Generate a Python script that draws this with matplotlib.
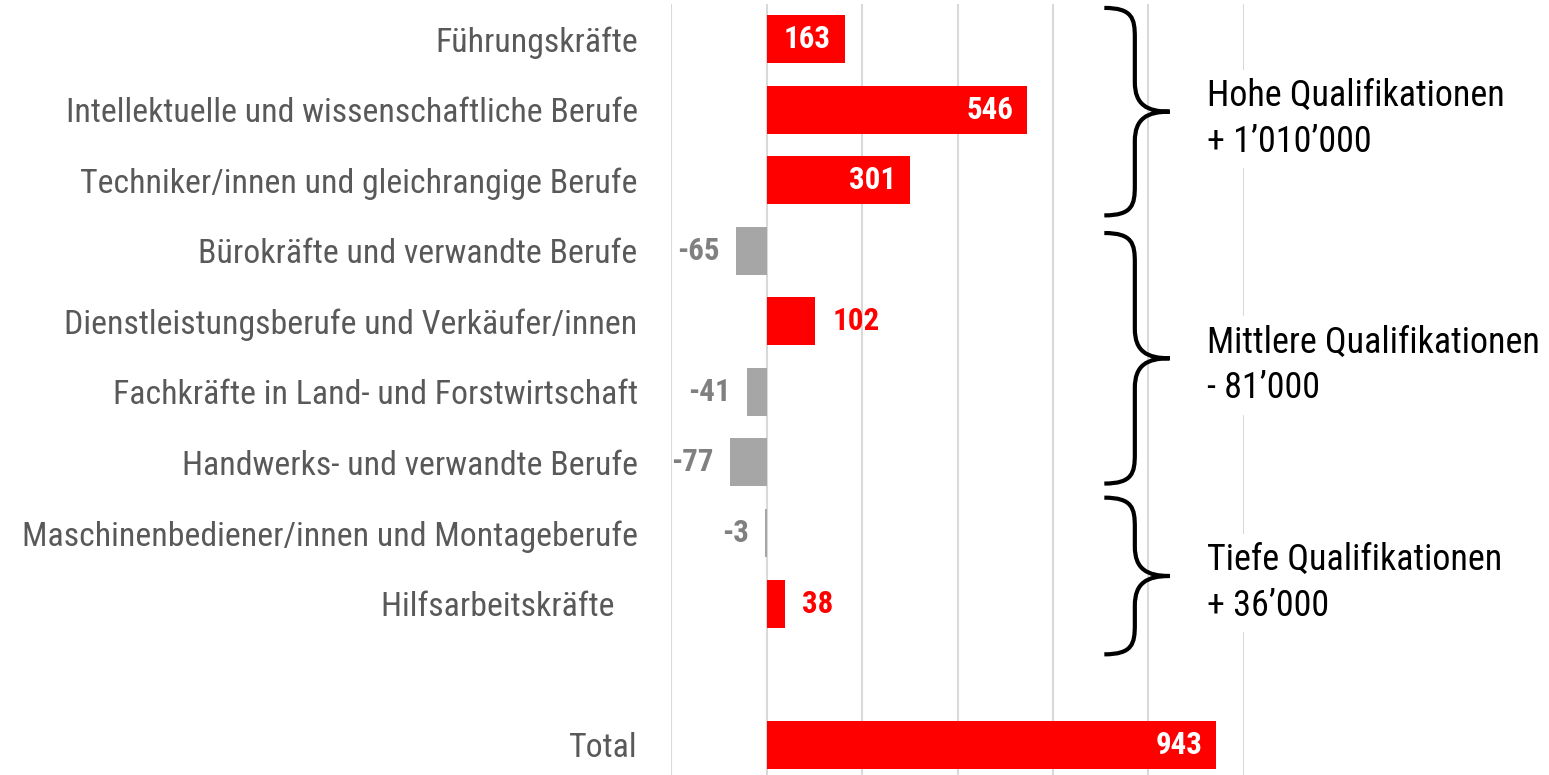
import matplotlib
matplotlib.use("Agg")
import matplotlib.pyplot as plt
from matplotlib.path import Path
from matplotlib.patches import PathPatch
from matplotlib import font_manager

# data
categories = [
    "Führungskräfte",
    "Intellektuelle und wissenschaftliche Berufe",
    "Techniker/innen und gleichrangige Berufe",
    "Bürokräfte und verwandte Berufe",
    "Dienstleistungsberufe und Verkäufer/innen",
    "Fachkräfte in Land- und Forstwirtschaft",
    "Handwerks- und verwandte Berufe",
    "Maschinenbediener/innen und Montageberufe",
    "Hilfsarbeitskräfte   ",
]
values = [163, 546, 301, -65, 102, -41, -77, -3, 38]
total_label = "Total"
total_value = 943

groups = ["Hohe Qualifikationen\n+ 1’010’000",
          "Mittlere Qualifikationen\n- 81’000",
          "Tiefe Qualifikationen\n+ 36’000"]
# vertical extent of each brace, in row units (hand placed like the original)
brace_spans = [(-0.44, 2.5), (2.75, 6.3), (6.5, 8.72)]

# pick a narrow font (Arial Narrow look) that has regular + bold
weights = {}
for f in font_manager.fontManager.ttflist:
    w = f.weight if isinstance(f.weight, int) else (700 if "bold" in str(f.weight) else 400)
    if f.style == "normal":
        weights.setdefault(f.name, set()).add(w)
fam = "Liberation Sans"
for cand in ["Liberation Sans Narrow", "Arial Narrow", "Roboto Condensed",
             "Archivo Narrow", "PT Sans Narrow", "Pragati Narrow"]:
    if cand in weights and 400 in weights[cand] and 700 in weights[cand]:
        fam = cand
        break
plt.rcParams["font.family"] = [fam, "DejaVu Sans"]

RED = "#ff0000"
GREY_BAR = "#a6a6a6"
GREY_TXT = "#808080"
LABEL_TXT = "#595959"

fig = plt.figure(figsize=(15.49, 7.75), dpi=100)
ax = fig.add_axes([671 / 1549, 0, 573 / 1549, 770.6 / 775])
renderer = fig.canvas.get_renderer()


def fit_size(text, target_px, weight="normal", base=20):
    t = fig.text(0, 0, text, fontsize=base, fontweight=weight)
    w = t.get_window_extent(renderer).width
    t.remove()
    return base * target_px / w


cat_fs = fit_size("Intellektuelle und wissenschaftliche Berufe", 571)
grp_fs = fit_size("Hohe Qualifikationen", 297)
val_fs = fit_size("546", 47, weight="bold")

rows = list(range(len(categories))) + [len(categories) + 1]
all_vals = values + [total_value]
all_labels = categories + [total_label]
colors = [RED if v > 0 else GREY_BAR for v in all_vals]

ax.barh(rows, all_vals, height=0.68, color=colors, zorder=2)

inside_min = 150
for r, v in zip(rows, all_vals):
    if v >= inside_min:
        ax.annotate(str(v), (v, r), xytext=(-10, 0), textcoords="offset points",
                    ha="right", va="center", color="white", fontsize=val_fs,
                    fontweight="bold", zorder=3)
    elif v > 0:
        ax.annotate(str(v), (v, r), xytext=(12, 0), textcoords="offset points",
                    ha="left", va="center", color=RED, fontsize=val_fs,
                    fontweight="bold", zorder=3)
    else:
        ax.annotate(str(v), (v, r), xytext=(-12, 0), textcoords="offset points",
                    ha="right", va="center", color=GREY_TXT, fontsize=val_fs,
                    fontweight="bold", zorder=3)

ax.set_xlim(-201, 1001)
ax.set_ylim(len(categories) + 1.43, -0.49)
ax.set_xticks(range(-200, 1001, 200))
ax.set_xticklabels([])
ax.tick_params(axis="x", length=0)
ax.grid(axis="x", color="#d9d9d9", linewidth=1.5, zorder=0)
ax.set_yticks(rows)
ax.set_yticklabels(all_labels, fontsize=cat_fs, color=LABEL_TXT)
ax.tick_params(axis="y", length=0, pad=24)
for s in ax.spines.values():
    s.set_visible(False)

# braces
x0, x1, x2 = 708, 772, 845
ry = 0.42
for (yt, yb), txt in zip(brace_spans, groups):
    ym = (yt + yb) / 2
    verts = [
        (x0, yt),
        (x1 - 5, yt), (x1, yt + 0.15), (x1, yt + ry),
        (x1, ym - ry),
        (x1, ym - 0.1), (x1 + 25, ym), (x2, ym),
        (x1 + 25, ym), (x1, ym + 0.1), (x1, ym + ry),
        (x1, yb - ry),
        (x1, yb - 0.15), (x1 - 5, yb), (x0, yb),
    ]
    codes = [Path.MOVETO,
             Path.CURVE4, Path.CURVE4, Path.CURVE4,
             Path.LINETO,
             Path.CURVE4, Path.CURVE4, Path.CURVE4,
             Path.CURVE4, Path.CURVE4, Path.CURVE4,
             Path.LINETO,
             Path.CURVE4, Path.CURVE4, Path.CURVE4]
    ax.add_patch(PathPatch(Path(verts, codes), facecolor="none",
                           edgecolor="black", linewidth=3, clip_on=False,
                           zorder=4))
    ax.text(923, ym + 0.1, txt, ha="left", va="center", fontsize=grp_fs,
            color="black", linespacing=1.35, clip_on=False, zorder=5,
            bbox=dict(facecolor="white", edgecolor="none", pad=6))

fig.savefig("out.png", dpi=100)
